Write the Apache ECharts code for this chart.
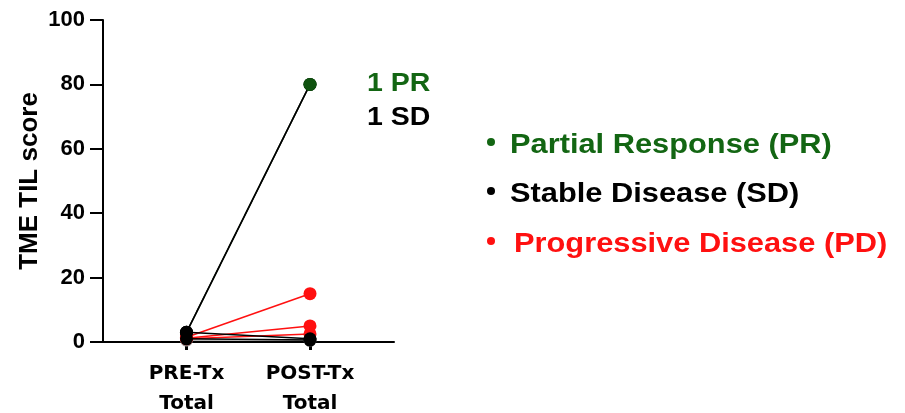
<!DOCTYPE html>
<html><head><meta charset="utf-8">
<script src="https://cdn.jsdelivr.net/npm/echarts@6/dist/echarts.min.js"></script>
<style>html,body{margin:0;padding:0;background:#fff}#c{width:905px;height:413px}</style>
</head><body><div id="c"></div>
<script>
var categories = ['PRE-Tx\nTotal', 'POST-Tx\nTotal'];
var yTicks = [0, 20, 40, 60, 80, 100];
// patient trajectories [PRE, POST]
var grayPair = [0.6, 0.6];
var pd1 = [1.5, 15];
var pd2 = [1.2, 5];
var pd3 = [1, 2.5];
var sd1 = [3, 80];
var sd2 = [3, 1];
var sd3 = [1, 0.6];
var pr1 = [3, 80];
var annotations = ['1 PR', '1 SD'];
var legendItems = ['Partial Response (PR)', 'Stable Disease (SD)', 'Progressive Disease (PD)'];

var GREEN = '#136613', RED = '#ff1010', BLACK = '#000000';
function ser(vals, color, lineColor, z, firstColor) {
  return {
    type: 'line', z: z,
    data: vals.map(function (v, i) {
      var d = { value: [i, v] };
      if (i === 0 && firstColor) d.itemStyle = { color: firstColor };
      return d;
    }),
    symbol: 'circle', symbolSize: 13,
    itemStyle: { color: color },
    lineStyle: { color: lineColor || color, width: 1.5 },
    silent: true, animation: false
  };
}
var F = '"Liberation Sans", Arial, sans-serif';
var chart = echarts.init(document.getElementById('c'));
chart.setOption({
  animation: false,
  grid: { left: 103, right: 511, top: 20, bottom: 71, outerBoundsMode: 'none', containLabel: false },
  xAxis: {
    type: 'value', min: -0.676, max: 1.68,
    splitLine: { show: false },
    axisLine: { lineStyle: { color: '#000', width: 2 } },
    axisTick: { customValues: [0, 1], length: 8, inside: false, lineStyle: { color: '#000', width: 3 } },
    axisLabel: {
      customValues: [0, 1],
      formatter: function (v) { return categories[Math.round(v)]; },
      fontFamily: '"DejaVu Sans", sans-serif', fontWeight: 'bold', fontSize: 20, color: '#000',
      lineHeight: 30, margin: 17
    }
  },
  yAxis: {
    type: 'value', min: 0, max: 100, interval: 20,
    name: 'TME TIL score', nameLocation: 'middle', nameGap: 60, nameRotate: 90,
    nameTextStyle: { fontFamily: F, fontWeight: 'bold', fontSize: 26, color: '#000' },
    splitLine: { show: false },
    axisLine: { show: true, onZero: false, lineStyle: { color: '#000', width: 2 } },
    axisTick: { show: true, length: 13, lineStyle: { color: '#000', width: 2 } },
    axisLabel: { fontFamily: F, fontWeight: 'bold', fontSize: 22, color: '#000', margin: 18 }
  },
  series: [
    ser(grayPair, '#999999', '#999999', 1),
    ser(pd3, RED, RED, 2),
    ser(pd2, RED, RED, 2),
    ser(pd1, RED, RED, 2),
    ser(pr1, GREEN, '#0a1f0a', 3, BLACK),
    ser(sd1, BLACK, BLACK, 3),
    ser(sd2, BLACK, BLACK, 3),
    ser(sd3, BLACK, BLACK, 3),
    { type: 'scatter', z: 4, data: [[1, pr1[1]]], symbol: 'circle', symbolSize: 13, itemStyle: { color: GREEN }, silent: true }
  ],
  graphic: [
    { type: 'text', x: 367, y: 84, scaleX: 1.14, style: { text: annotations[0], fill: GREEN, font: 'bold 25px ' + F, verticalAlign: 'middle' } },
    { type: 'text', x: 367, y: 118, scaleX: 1.14, style: { text: annotations[1], fill: '#000', font: 'bold 25px ' + F, verticalAlign: 'middle' } },
    { type: 'circle', shape: { cx: 491, cy: 142, r: 4 }, style: { fill: GREEN } },
    { type: 'circle', shape: { cx: 491, cy: 191, r: 4 }, style: { fill: '#000' } },
    { type: 'circle', shape: { cx: 491, cy: 241, r: 4 }, style: { fill: RED } },
    { type: 'text', x: 510, y: 145, scaleX: 1.1, style: { text: legendItems[0], fill: GREEN, font: 'bold 28px ' + F, verticalAlign: 'middle' } },
    { type: 'text', x: 510, y: 194, scaleX: 1.1, style: { text: legendItems[1], fill: '#000', font: 'bold 28px ' + F, verticalAlign: 'middle' } },
    { type: 'text', x: 514, y: 244, scaleX: 1.1, style: { text: legendItems[2], fill: RED, font: 'bold 28px ' + F, verticalAlign: 'middle' } }
  ]
});
</script></body></html>
